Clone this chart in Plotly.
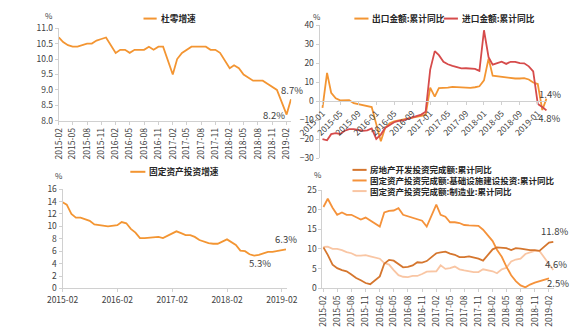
import plotly.graph_objects as go

W, H = 580, 331
def fx(x): return x / W
def fy(y): return 1 - y / H

FONT = "Noto Sans CJK SC"
TXT = "#404040"
AX = "#d0d0d0"

# ---------------- data ----------------
months_nojan = ["2015-02","2015-03","2015-04","2015-05","2015-06","2015-07","2015-08","2015-09","2015-10","2015-11","2015-12",
                "2016-02","2016-03","2016-04","2016-05","2016-06","2016-07","2016-08","2016-09","2016-10","2016-11","2016-12",
                "2017-02","2017-03","2017-04","2017-05","2017-06","2017-07","2017-08","2017-09","2017-10","2017-11","2017-12",
                "2018-02","2018-03","2018-04","2018-05","2018-06","2018-07","2018-08","2018-09","2018-10","2018-11","2018-12",
                "2019-02","2019-03"]

retail = [10.7,10.55,10.45,10.4,10.4,10.45,10.5,10.5,10.6,10.65,10.7,
          10.2,10.3,10.3,10.2,10.3,10.3,10.3,10.4,10.3,10.4,10.4,
          9.5,10.0,10.2,10.3,10.4,10.4,10.4,10.4,10.3,10.3,10.2,
          9.7,9.8,9.7,9.5,9.4,9.3,9.3,9.3,9.2,9.1,9.0,
          8.2,8.7]

fai = [13.9,13.5,12.0,11.4,11.4,11.2,10.9,10.3,10.2,10.2,10.0,
       10.2,10.7,10.5,9.6,9.0,8.1,8.1,8.2,8.3,8.3,8.1,
       8.9,9.2,8.9,8.6,8.6,8.3,7.8,7.5,7.3,7.2,7.2,
       7.9,7.5,7.0,6.1,6.0,5.5,5.3,5.4,5.7,5.9,5.9,
       6.1,6.3]

realestate = [10.4,8.5,6.0,5.1,4.6,4.3,3.5,2.6,2.0,1.3,1.0,
              3.0,6.2,7.2,7.0,6.1,5.3,5.4,5.8,6.6,6.5,6.9,
              8.9,9.1,9.3,8.8,8.5,7.9,7.9,8.1,7.8,7.5,7.0,
              9.9,10.4,10.3,10.2,9.7,10.2,10.1,9.9,9.7,9.7,9.5,
              11.6,11.8]

infra_months = months_nojan[:-1]
infra = [20.7,22.8,20.5,18.7,19.3,18.7,18.7,18.1,17.5,18.0,17.2,
         15.7,19.3,19.7,19.8,20.4,18.7,18.3,17.9,17.5,17.2,15.7,
         21.3,18.7,18.2,16.8,16.8,16.6,16.1,16.0,16.0,15.9,14.9,
         12.0,9.8,8.0,5.5,3.3,1.8,0.7,0.2,0.9,1.4,1.8,
         2.5]

manuf = [10.5,10.6,10.0,10.0,9.7,9.2,8.9,8.3,8.3,8.4,8.1,
         7.5,6.4,6.0,4.6,3.3,2.9,2.8,3.1,3.1,3.6,4.2,
         4.3,5.8,4.9,5.1,5.5,4.8,4.5,4.2,4.1,4.1,4.8,
         4.3,3.8,4.8,5.2,6.8,7.3,7.5,8.7,9.1,9.5,9.5,
         5.9,4.6]

months_all = ["2015-01","2015-02","2015-03","2015-04","2015-05","2015-06","2015-07","2015-08","2015-09","2015-10","2015-11","2015-12",
              "2016-01","2016-02","2016-03","2016-04","2016-05","2016-06","2016-07","2016-08","2016-09","2016-10","2016-11","2016-12",
              "2017-01","2017-02","2017-03","2017-04","2017-05","2017-06","2017-07","2017-08","2017-09","2017-10","2017-11","2017-12",
              "2018-01","2018-02","2018-03","2018-04","2018-05","2018-06","2018-07","2018-08","2018-09","2018-10","2018-11","2018-12",
              "2019-01","2019-02","2019-03"]

export = [-3.5,15.0,4.5,1.6,0.5,0.4,0.6,-1.0,-1.6,-2.1,-2.6,-3.0,
          -12.0,-21.0,-14.0,-11.5,-10.5,-10.0,-9.5,-9.2,-8.8,-8.2,-7.7,-7.2,
          7.2,2.5,7.0,7.0,7.2,7.6,7.4,7.2,7.0,7.1,7.4,7.9,
          11.0,22.5,13.5,13.2,12.8,12.5,12.2,12.0,12.0,12.2,11.5,9.9,
          9.1,-4.6,1.4]

imports = [-19.9,-20.5,-17.3,-16.8,-17.2,-15.5,-14.6,-14.6,-15.1,-15.5,-15.3,-14.3,
           -19.8,-17.5,-14.0,-12.5,-11.0,-10.3,-10.0,-9.2,-8.5,-8.0,-7.0,-5.5,
           16.7,26.4,24.3,20.8,19.5,18.7,18.1,17.3,17.4,17.4,17.1,16.0,
           37.4,23.2,19.3,20.1,20.9,19.7,20.8,20.8,20.1,20.0,18.4,15.8,
           -1.4,-3.0,-4.8]

ticks_q = ["2015-02","2015-05","2015-08","2015-11","2016-02","2016-05","2016-08","2016-11",
           "2017-02","2017-05","2017-08","2017-11","2018-02","2018-05","2018-08","2018-11","2019-02"]
ticks_4m = ["2015-01","2015-05","2015-09","2016-01","2016-05","2016-09","2017-01","2017-05",
            "2017-09","2018-01","2018-05","2018-09","2019-01"]
ticks_y = ["2015-02","2016-02","2017-02","2018-02","2019-02"]

legend_br = ["房地产开发投资完成额:累计同比",
             "固定资产投资完成额:基础设施建设投资:累计同比",
             "固定资产投资完成额:制造业:累计同比"]

C_OR = "#F39532"
C_RED = "#D64B4B"
C_RE = "#D5762E"
C_INF = "#F5923A"
C_MAN = "#F9C6A4"

fig = go.Figure()
LW = 1.8
fig.add_trace(go.Scatter(x=months_nojan, y=retail, mode="lines", line=dict(color=C_OR, width=LW),
                         name="杜零增速", xaxis="x", yaxis="y", showlegend=False))
fig.add_trace(go.Scatter(x=months_all, y=export, mode="lines", line=dict(color=C_OR, width=LW),
                         name="出口金额:累计同比", xaxis="x2", yaxis="y2", showlegend=False))
fig.add_trace(go.Scatter(x=months_all, y=imports, mode="lines", line=dict(color=C_RED, width=LW),
                         name="进口金额:累计同比", xaxis="x2", yaxis="y2", showlegend=False))
fig.add_trace(go.Scatter(x=months_nojan, y=fai, mode="lines", line=dict(color=C_OR, width=LW),
                         name="固定资产投资增速", xaxis="x3", yaxis="y3", showlegend=False))
fig.add_trace(go.Scatter(x=months_nojan, y=manuf, mode="lines", line=dict(color=C_MAN, width=LW),
                         name=legend_br[2], xaxis="x4", yaxis="y4", showlegend=False))
fig.add_trace(go.Scatter(x=infra_months, y=infra, mode="lines", line=dict(color=C_INF, width=LW),
                         name=legend_br[1], xaxis="x4", yaxis="y4", showlegend=False))
fig.add_trace(go.Scatter(x=months_nojan, y=realestate, mode="lines", line=dict(color=C_RE, width=LW),
                         name=legend_br[0], xaxis="x4", yaxis="y4", showlegend=False))

tickfont = dict(family=FONT, size=8.5, color=TXT)
def xax(domain, rng, tickvals, angle, **kw):
    d = dict(domain=domain, range=rng, type="date", tickmode="array", tickvals=tickvals, ticktext=tickvals,
             tickangle=angle, tickfont=tickfont, showgrid=False, zeroline=False, showline=True,
             linecolor=AX, linewidth=1, ticks="outside", ticklen=3, tickcolor=AX)
    d.update(kw)
    return d
def yax(domain, rng, dtick, fmt, anchor):
    return dict(domain=domain, range=rng, dtick=dtick, tickformat=fmt, tickfont=tickfont, showgrid=False,
                zeroline=False, showline=True, linecolor=AX, linewidth=1, ticks="outside", ticklen=3,
                tickcolor=AX, anchor=anchor)

zero_px = 19 + 40 * (157 - 19) / 70.0
fig.update_layout(
    width=W, height=H, margin=dict(l=0, r=0, t=0, b=0),
    paper_bgcolor="white", plot_bgcolor="white", showlegend=False,
    font=dict(family=FONT, size=9, color=TXT),
    xaxis=xax([fx(38), fx(285)], ["2015-02-01", "2019-03-03"], ticks_q, -90, anchor="y"),
    yaxis=yax([fy(118), fy(22)], [8, 11], 0.5, ".1f", "x"),
    xaxis2=xax([fx(315), fx(557)], ["2014-12-12", "2019-03-07"], ticks_4m, -45, anchor="free",
               position=fy(zero_px)),
    yaxis2=yax([fy(157), fy(19)], [-30, 40], 10, "d", "x2"),
    xaxis3=xax([fx(42), fx(280)], ["2015-02-01", "2019-03-05"], ticks_y, 0, anchor="y3"),
    yaxis3=yax([fy(292), fy(189)], [0, 16], 2, "d", "x3"),
    xaxis4=xax([fx(318), fx(564)], ["2015-01-25", "2019-03-05"], ticks_q, -90, anchor="y4"),
    yaxis4=yax([fy(291.7), fy(190)], [0, 25], 5, "d", "x4"),
)

ann = []
def pct(x, y, text, xref, yref, xs=0, ys=0):
    ann.append(dict(x=x, y=y, xref=xref, yref=yref, text=text, showarrow=False, xshift=xs, yshift=ys,
                    font=dict(family=FONT, size=9.5, color=TXT)))
def ptxt(x, y, text, size=8.5, bold=False, anchor="center", yanchor="middle"):
    t = f"<b>{text}</b>" if bold else text
    ann.append(dict(x=fx(x), y=fy(y), xref="paper", yref="paper", text=t, showarrow=False,
                    xanchor=anchor, yanchor=yanchor, align="left",
                    font=dict(family=FONT, size=size, color=TXT if not bold else "#262626")))

# value labels
pct(months_nojan[-1], retail[-1], f"{retail[-1]}%", "x", "y", 1, 9)
pct(months_nojan[-2], retail[-2], f"{retail[-2]}%", "x", "y", -13, 0)
pct(months_all[-1], export[-1], f"{export[-1]}%", "x2", "y2", 4, 5)
pct(months_all[-1], imports[-1], f"{imports[-1]}%", "x2", "y2", 1, -8)
pct(months_nojan[-1], fai[-1], f"{fai[-1]}%", "x3", "y3", 0, 10)
imin = fai.index(min(fai))
pct(months_nojan[imin], fai[imin], f"{fai[imin]}%", "x3", "y3", 6, -7)
pct(months_nojan[-1], realestate[-1], f"{realestate[-1]}%", "x4", "y4", 1, 11)
pct(months_nojan[-1], manuf[-1], f"{manuf[-1]}%", "x4", "y4", 3, 6)
pct(infra_months[-1], infra[-1], f"{infra[-1]}%", "x4", "y4", 9, -5)

# unit labels
ptxt(28, 16.5, "%", 8, yanchor="bottom")
ptxt(312, 10, "%", 8)
ptxt(38, 175, "%", 8)
ptxt(313, 174, "%", 8)

# legends
shapes = []
def legline(x0, x1, y, color):
    shapes.append(dict(type="line", xref="paper", yref="paper", x0=fx(x0), x1=fx(x1), y0=fy(y), y1=fy(y),
                       line=dict(color=color, width=2)))
def leg(x0, x1, y, color, text):
    legline(x0, x1, y, color)
    ptxt(x1 + 2, y, text, 8.7, True, "left")

leg(128, 142, 12, C_OR, "杜零增速")
leg(352, 367, 12, C_OR, "出口金额:累计同比")
leg(447, 462, 12, C_RED, "进口金额:累计同比")
leg(114, 130, 171, C_OR, "固定资产投资增速")
legline(350, 365, 169, C_RE)
legline(350, 365, 180, C_INF)
legline(350, 365, 191, C_MAN)
ptxt(367, 180, "<br>".join(f"<b>{t}</b>" for t in legend_br), 8.5, False, "left")
ann[-1]["font"]["color"] = "#262626"

fig.update_layout(annotations=ann, shapes=shapes)
fig.write_html("out.html")
